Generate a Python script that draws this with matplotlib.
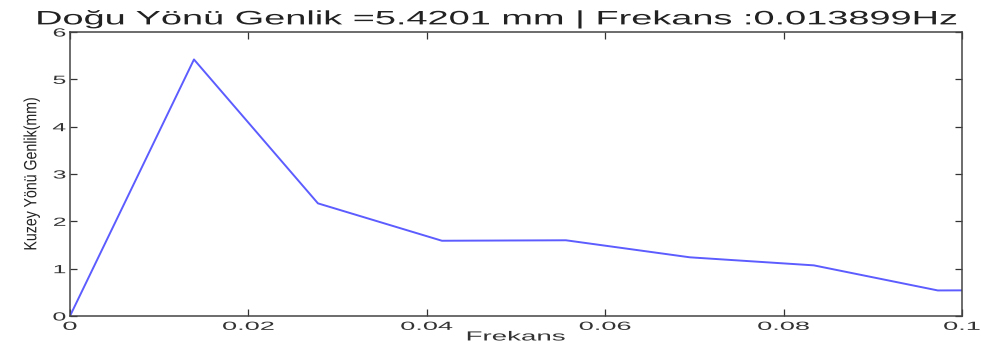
import matplotlib
matplotlib.use("Agg")
import numpy as np
import matplotlib.pyplot as plt
from matplotlib.path import Path
from matplotlib.patheffects import AbstractPathEffect
from matplotlib.transforms import Affine2D

# Amplitude spectrum samples (frequency step = 0.013899 Hz)
frekans = [0.0, 0.013899, 0.027798, 0.041697, 0.055596, 0.069495, 0.083394, 0.097293, 0.111192]
genlik = [0.0, 5.4201, 2.38, 1.59, 1.60, 1.24, 1.07, 0.54, 0.55]

x_ticks = [0, 0.02, 0.04, 0.06, 0.08, 0.1]
x_tick_labels = ["0", "0.02", "0.04", "0.06", "0.08", "0.1"]
y_ticks = [0, 1, 2, 3, 4, 5, 6]


class Stretch(AbstractPathEffect):
    """Widen glyphs horizontally (in display space) around an anchor."""

    def __init__(self, sx, anchor="center"):
        super().__init__()
        self.sx = sx
        self.anchor = anchor

    def draw_path(self, renderer, gc, tpath, affine, rgbFace=None):
        verts = tpath.vertices
        if tpath.codes is not None:
            verts = verts[tpath.codes != Path.CLOSEPOLY]
        xs = affine.transform(verts)[:, 0] if len(verts) else np.array([0.0])
        if self.anchor == "right":
            c = xs.max()
        elif self.anchor == "left":
            c = xs.min()
        else:
            c = 0.5 * (xs.min() + xs.max())
        t = affine + Affine2D().translate(-c, 0).scale(self.sx, 1).translate(c, 0)
        renderer.draw_path(gc, tpath, t, rgbFace)


plt.rcParams["font.family"] = ["Liberation Sans", "DejaVu Sans"]

fig = plt.figure(figsize=(9.83, 3.53), dpi=100)
ax = fig.add_axes([0.0712, 0.1048, 0.9074, 0.8045])

ax.plot(frekans, genlik, color="#5c5cff", lw=1.4)

ax.set_xlim(0, 0.1)
ax.set_ylim(0, 6)
ax.set_xticks(x_ticks)
ax.set_xticklabels(x_tick_labels)
ax.set_yticks(y_ticks)

ax.tick_params(direction="in", top=True, right=True, length=5, width=0.9,
               labelsize=8.5, colors="#333333")
ax.tick_params(axis="x", pad=3.5)
ax.tick_params(axis="y", pad=3)
for s in ax.spines.values():
    s.set_linewidth(1.1)
    s.set_color("#444444")

title = ax.set_title("Doğu Yönü Genlik =5.4201 mm | Frekans :0.013899Hz",
                     fontsize=14, pad=5.5, color="#222222", x=0.480)
xlab = ax.set_xlabel("Frekans", fontsize=9.5, labelpad=-1, color="#333333")
ylab = ax.set_ylabel("Kuzey Yönü Genlik(mm)", fontsize=10.2, labelpad=15, color="#222222")

title.set_path_effects([Stretch(1.95)])
xlab.set_path_effects([Stretch(2.1)])
ylab.set_path_effects([Stretch(1.25)])
for lab in ax.get_xticklabels():
    lab.set_path_effects([Stretch(2.3)])
for lab in ax.get_yticklabels():
    lab.set_path_effects([Stretch(2.1, anchor="right")])

fig.savefig("out.png", dpi=100)
